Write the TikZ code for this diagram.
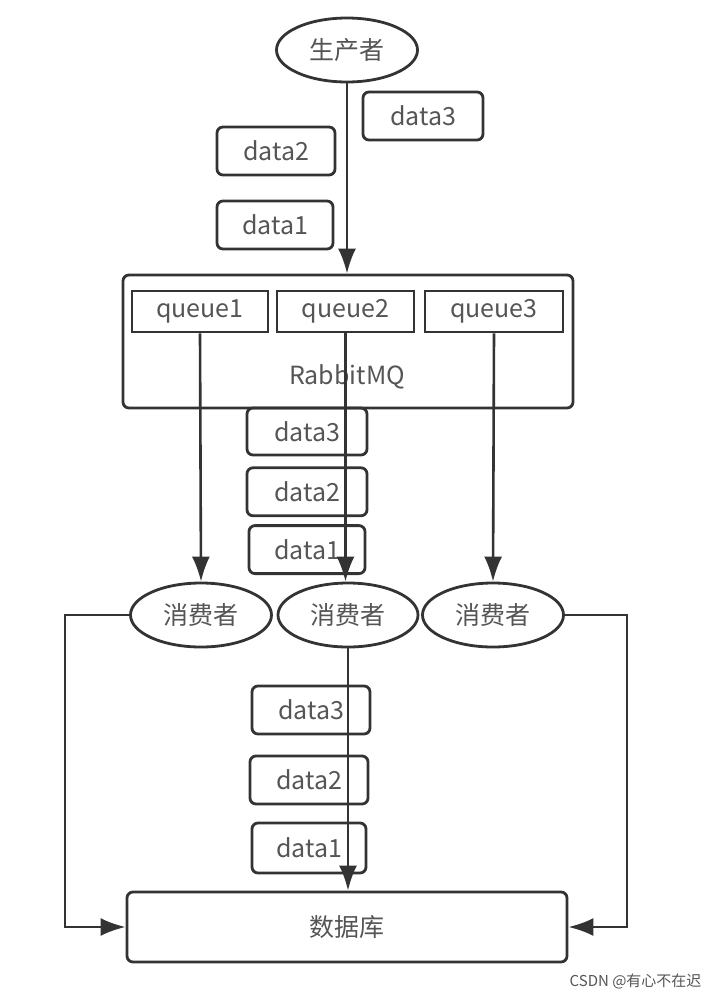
\documentclass[tikz,border=0pt]{standalone}
\usepackage{fontspec}
\setmainfont{Noto Sans CJK SC}
\usepackage{tikz}
\usetikzlibrary{shapes.geometric, arrows.meta, positioning}
\definecolor{linegray}{HTML}{333333}
\definecolor{textgray}{HTML}{555555}
\tikzstyle{actor} = [ellipse, draw=linegray, line width=2.8pt, minimum width=141pt, minimum height=64pt, inner sep=0pt, text=textgray, font=\fontsize{25}{27}\selectfont]
\tikzstyle{msg} = [rectangle, rounded corners=6pt, draw=linegray, line width=2.8pt, minimum width=118pt, minimum height=48pt, inner sep=0pt, text=textgray, font=\fontsize{25}{27}\selectfont]
\tikzstyle{queue} = [rectangle, draw=linegray, line width=2.8pt, minimum width=137pt, minimum height=41pt, inner sep=0pt, text=textgray, font=\fontsize{25}{27}\selectfont]
\tikzstyle{store} = [rectangle, rounded corners=6pt, draw=linegray, line width=2.8pt, inner sep=0pt, text=textgray, font=\fontsize{25}{27}\selectfont]
\tikzstyle{arrow} = [draw=linegray, line width=2.6pt, -{Latex[length=25pt,width=18pt]}]

\begin{document}
\begin{tikzpicture}[x=1pt,y=-1pt]
		\useasboundingbox (0,0) rectangle (712,1002);
		
		% Nodes
		\node (producer) [actor] at (347,50) {生产者};
		\node (d3top) [msg, minimum width=120pt] at (423,116) {data3};
		\node (d2top) [msg] at (276,151) {data2};
		\node (d1top) [msg, minimum width=116pt] at (275,225) {data1};
		
		\node (mq) [store, minimum width=450pt, minimum height=133pt] at (348,341.5) {};
		\node (q1) [queue, minimum width=136pt] at (200,311.5) {queue1};
		\node (q2) [queue] at (345.5,311.5) {queue2};
		\node (q3) [queue, minimum width=138pt] at (494,311.5) {queue3};
		\node (mqlabel) [text=textgray, font=\fontsize{25}{27}\selectfont] at (347,377) {RabbitMQ};
		
		\node (d3mid) [msg, minimum width=120pt, minimum height=47pt] at (307,431.5) {data3};
		\node (d2mid) [msg, minimum width=120pt, below=10pt of d3mid] {data2};
		\node (d1mid) [msg, minimum width=116pt, below=7pt of d2mid] {data1};
		
		\node (c1) [actor] at (201,615) {消费者};
		\node (c2) [actor, minimum width=140pt] at (348,615) {消费者};
		\node (c3) [actor] at (493,615) {消费者};
		
		\node (d3bot) [msg] at (311,710) {data3};
		\node (d2bot) [msg] at (309,780) {data2};
		\node (d1bot) [msg, minimum width=114pt, minimum height=50pt] at (309,848) {data1};
		
		\node (db) [store, minimum width=440pt, minimum height=70pt] at (347,927) {数据库};
		
		\node (mark) [text=textgray, font=\fontsize{15}{16}\selectfont, anchor=east] at (705,981) {CSDN @有心不在迟};
		
		% Arrows
		\draw [arrow] (producer.south) -- (producer.south |- mq.north);
		\draw [arrow] (q1.south) -- (c1.north);
		\draw [arrow] (q2.south) -- (q2.south |- c2.north);
		\draw [arrow] (q3.south) -- (c3.north);
		\draw [arrow] (c2.south) -- (c2.south |- db.north);
		
		% Consumers to database
		\draw [arrow] (c1.west) -- ++(-64,0) |- (db.west);
		\draw [arrow] (c3.east) -- ++(62,0) |- (db.east);
		
	\end{tikzpicture}
\end{document}
